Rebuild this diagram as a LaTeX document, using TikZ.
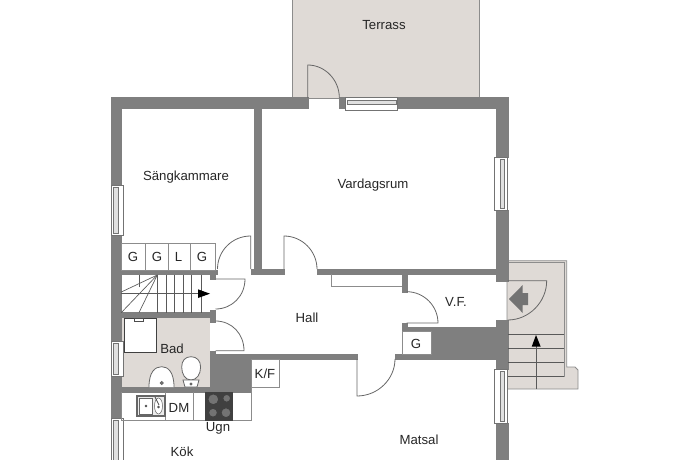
\documentclass[tikz,border=0pt]{standalone}
\usepackage{fontspec}
\setmainfont{Liberation Sans}
\definecolor{wallgray}{HTML}{7F7F7F}
\definecolor{floorgray}{HTML}{DFDAD6}
\definecolor{thingray}{HTML}{8C8C8C}
\definecolor{stovegray}{HTML}{404040}
\tikzset{
  roomtext/.style={inner sep=0.75pt,font=\fontsize{9.9}{12}\selectfont,text=black!85},
  wall/.style={fill=wallgray,draw=wallgray,line width=0.2},
  thin line/.style={draw=thingray,line width=0.6},
  door/.style={draw=black!60,line width=0.6},
  windowbox/.style={fill=white,draw=black!55,line width=0.5},
  windowbar/.style={fill=black!12,draw=black!55,line width=0.4},
  stair line/.style={draw=black!65,line width=0.5},
  furniture/.style={fill=white,draw=black!75,line width=0.5}
}
\begin{document}
\begin{tikzpicture}[x=0.75pt,y=0.75pt,yscale=-1,xscale=1]
\path[use as bounding box] (0,0) rectangle (690,460);

%Shape: Terrace
\draw [fill=floorgray,draw=thingray,line width=0.6] (292,0) -- (292,98) -- (479,98) -- (479,0) ;
%Shape: Bath floor
\fill [floorgray] (121,317) rectangle (210,387);
%Shape: Outside stairs
\draw [fill=floorgray,draw=thingray,line width=0.6] (507,260.7) -- (566.7,260.7) -- (566.7,367) -- (575,367) -- (578,370) -- (578,389) -- (507,389) -- cycle ;
\draw [thin line] (507,262.5) -- (564,262.5) -- (564,376.7) ;

%Shape: Outer walls
\draw [wall] (111,97.5) rectangle (307.7,108);
\draw [wall] (339.3,97.5) rectangle (345.5,108);
\draw [wall] (397.5,97.5) rectangle (507.7,108);
\draw [wall] (111,97.5) rectangle (121.3,185);
\draw [wall] (111,235) rectangle (121.3,341);
\draw [wall] (111,376) rectangle (121.3,418);
\draw [wall] (496,97.5) rectangle (507.7,157);
\draw [wall] (496,210) rectangle (507.7,281);
\draw [wall] (496,320) rectangle (507.7,369);
\draw [wall] (496,423) rectangle (507.7,460);

%Shape: Inner walls
\draw [wall] (254.5,108) rectangle (260.7,269);
\draw [wall] (251,269) rectangle (284,274);
\draw [wall] (317,269) rectangle (496,274);
\draw [wall] (121,270) rectangle (217.5,274.5);
\draw [wall] (210,270) rectangle (215.5,279);
\draw [wall] (121,312.6) rectangle (215.5,317);
\draw [wall] (210,310) rectangle (215.5,322);
\draw [wall] (210,351) rectangle (215.5,392);
\draw [wall] (215.5,354) rectangle (251,392);
\draw [wall] (251,354) rectangle (357,359);
\draw [wall] (395,354) rectangle (431.7,359);
\draw [wall] (121,387) rectangle (210,392);
\draw [wall] (402,274) rectangle (406.7,291.7);
\draw [wall] (402,323) rectangle (406.7,331.7);
\draw [wall] (402,327) rectangle (431.7,331.7);
\draw [wall] (431.7,327) rectangle (496,359);

%Shape: Windows
\draw [windowbox] (345.5,97.5) rectangle (397.5,110.5);
\draw [windowbar] (347,100) rectangle (396,104);
\draw [windowbox] (494.5,157) rectangle (507.7,210);
\draw [windowbar] (500,159) rectangle (504.3,208);
\draw [windowbox] (494.5,369) rectangle (507.7,423);
\draw [windowbar] (500,371) rectangle (504.3,421);
\draw [windowbox] (111,185) rectangle (123,235);
\draw [windowbar] (113,187) rectangle (118.3,233);
\draw [windowbox] (111,341) rectangle (123,376);
\draw [windowbar] (113,343) rectangle (118.3,374);
\draw [windowbox] (111,418) rectangle (123,460);
\draw [windowbar] (113,420) rectangle (118.3,460);

%Shape: Doors
\draw [door] (307.7,98) -- (307.7,65) .. controls (325,65) and (339.3,80) .. (339.3,97.5) ;
\draw [door] (250.7,269) -- (250.7,236) .. controls (232,236) and (217.5,251) .. (217.5,269) ;
\draw [door] (284,269) -- (284,236) .. controls (302,236) and (317,251) .. (317,269) ;
\draw [door] (215.5,279) -- (245,279) .. controls (245,296) and (232,309) .. (215.5,309) ;
\draw [door] (215.5,321) .. controls (232,321) and (244,334) .. (244,350.7) -- (215.5,350.7) ;
\draw [door] (357,359) -- (357,396) .. controls (378,396) and (395,379) .. (395,359) ;
\draw [door] (406.7,291.7) .. controls (424,291.7) and (438,306) .. (438,323) -- (406.7,323) ;
\draw [door] (507.7,280.7) -- (546.7,280.7) .. controls (546.7,302) and (529,320) .. (507.7,320) ;

%Shape: Cupboards
\draw [thin line,fill=white] (121.3,243) rectangle (215,270);
\draw [thin line] (145,243) -- (145,270) ;
\draw [thin line] (168.7,243) -- (168.7,270) ;
\draw [thin line] (190,243) -- (190,270) ;
\draw [thin line,fill=white] (251,359) rectangle (279.5,387);
\draw [thin line,fill=white] (402,331.7) rectangle (431.7,354);
\draw [thin line] (331.7,274) -- (331.7,286.7) -- (401.7,286.7) ;
\draw [thin line] (121.3,392) -- (121.3,420.7) -- (251.7,420.7) -- (251.7,387) ;
\draw [thin line] (165.7,392) -- (165.7,420.7) ;
\draw [thin line] (193,392) -- (193,420.7) ;

%Shape: Inner stairs
\draw [stair line] (157.3,275) -- (121.3,292) ;
\draw [stair line] (157.3,275) -- (121.3,312.6) ;
\draw [stair line] (157.3,275) -- (139,312.6) ;
\draw [stair line] (139.5,287) -- (139.5,275) ;
\foreach \stepx in {157.3,166,174.7,183,191.7,201}{
  \draw [stair line] (\stepx,274.5) -- (\stepx,312.6) ;
}
\draw [stair line] (121.3,293.7) -- (198,293.7) ;
\fill [black] (198,289.3) -- (210,293.7) -- (198,298) -- cycle ;

%Shape: Outside steps
\draw [stair line] (507.7,334) -- (564,334) ;
\draw [stair line] (507.7,348) -- (564,348) ;
\draw [stair line] (507.7,362.7) -- (564,362.7) ;
\draw [stair line] (507.7,376.7) -- (564,376.7) ;
\draw [stair line] (536,389) -- (536,340) ;
\fill [black] (531.7,346.7) -- (536,335) -- (540.7,346.7) -- cycle ;
%Shape: Entrance arrow
\fill [black!55] (509,299) -- (522.7,285) -- (522.7,293) -- (528,293) -- (528,305) -- (522.7,305) -- (522.7,313) -- cycle ;

%Shape: Shower
\draw [furniture] (124,318) rectangle (156,352.7);
\draw [black!70,line width=0.5,fill=white] (134,318) rectangle (143,321);
%Shape: Wash basin
\draw [door,fill=white] (149,387) .. controls (149,372) and (155,366.7) .. (161.7,366.7) .. controls (168,366.7) and (174,372) .. (174,387) ;
\draw [door,fill=black!50] (161.7,383) circle (1.5);
%Shape: Toilet
\draw [door,fill=white] (191,356.7) .. controls (197,356.7) and (200.6,361) .. (200.6,367) .. controls (200.6,374) and (197,380) .. (191,380) .. controls (185,380) and (181.7,374) .. (181.7,367) .. controls (181.7,361) and (185,356.7) .. (191,356.7) -- cycle ;
\draw [door,fill=white] (183,380) -- (199,380) -- (197,387) -- (185,387) -- cycle ;
\draw [door,fill=black!50] (191,384) circle (1);
%Shape: Sink
\draw [draw=black!60,fill=black!8,line width=0.8] (137,396) rectangle (165,416);
\draw [draw=black!60,fill=white,line width=0.4] (139,398) rectangle (152,414);
\draw [draw=black!60,fill=white,line width=0.4] (158.5,406) ellipse (4 and 8);
\draw [black!70,fill=black!50] (146,406) circle (1);
\draw [black!70,fill=black!50] (158.5,407) circle (1);
\draw [black!70,line width=0.6] (155,397) -- (159,405) ;
%Shape: Stove
\fill [stovegray] (205,392) rectangle (233,420.7);
\draw [black!75,fill=black!55,line width=0.8] (213.3,399.3) circle (5.5);
\draw [black!75,fill=black!55,line width=0.8] (226.7,398.3) circle (4);
\draw [black!75,fill=black!55,line width=0.8] (213,412.7) circle (4.5);
\draw [black!75,fill=black!55,line width=0.8] (226,412.7) circle (5);

% Text Node
\draw (384,25.5) node (terrass) [roomtext] {Terrass};
% Text Node
\draw (186,177) node (sangkammare) [roomtext] {Sängkammare};
% Text Node
\draw (373,185) node (vardagsrum) [roomtext] {Vardagsrum};
% Text Node
\draw (307,318) node (hall) [roomtext] {Hall};
% Text Node
\draw (456,302) node (vf) [roomtext] {V.F.};
% Text Node
\draw (172,349) node (bad) [roomtext] {Bad};
% Text Node
\draw (133,257) node (garderobA) [roomtext] {G};
% Text Node
\draw (157,257) node (garderobB) [roomtext] {G};
% Text Node
\draw (178.5,257) node (linneskap) [roomtext] {L};
% Text Node
\draw (202,257) node (garderobC) [roomtext] {G};
% Text Node
\draw (265,374) node (kf) [roomtext] {K/F};
% Text Node
\draw (416,344) node (garderobD) [roomtext] {G};
% Text Node
\draw (179,408) node (dm) [roomtext] {DM};
% Text Node
\draw (218,428.5) node (ugn) [roomtext] {Ugn};
% Text Node
\draw (182,451.5) node (kok) [roomtext] {Kök};
% Text Node
\draw (419,440) node (matsal) [roomtext] {Matsal};

\end{tikzpicture}
\end{document}
